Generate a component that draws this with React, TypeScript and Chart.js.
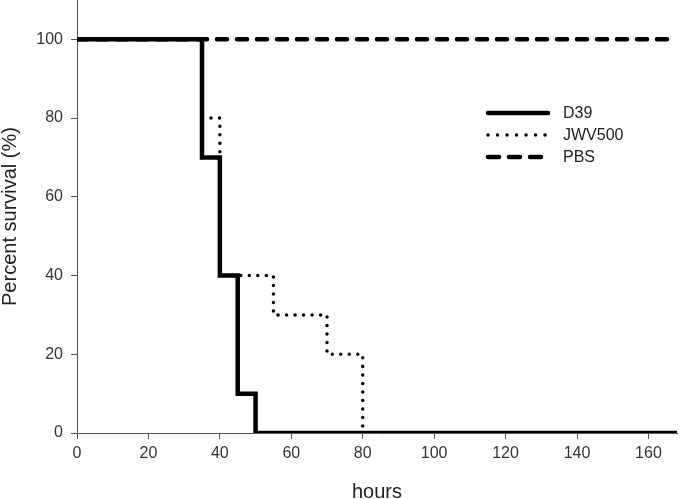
import React, { useEffect, useRef } from "react";
import { Chart, registerables } from "chart.js";

Chart.register(...registerables);

const seriesNames = ["D39", "JWV500", "PBS"];
const d39Hours = [0, 35, 40, 45, 50, 168];
const d39Survival = [100, 70, 40, 10, 0, 0];
const jwvHours = [0, 35, 40, 55, 70, 80, 168];
const jwvSurvival = [100, 80, 40, 30, 20, 0, 0];
const pbsHours = [0, 168];
const pbsSurvival = [100, 100];
const xTicks = [0, 20, 40, 60, 80, 100, 120, 140, 160];
const yTicks = [0, 20, 40, 60, 80, 100];

const FONT = "'Liberation Sans', Arial, Helvetica, sans-serif";
const lineStyles = [
  { width: 4.5, dash: [] as number[], cap: "butt" as CanvasLineCap },
  { width: 3.5, dash: [0.01, 8.5], cap: "round" as CanvasLineCap },
  { width: 4.5, dash: [10, 10], cap: "round" as CanvasLineCap },
];

const toPts = (xs: number[], ys: number[]) => xs.map((x, i) => ({ x, y: ys[i] }));

const legendPlugin = {
  id: "customLegend",
  afterDatasetsDraw(chart: any) {
    const ctx = chart.ctx as CanvasRenderingContext2D;
    const x0 = 488;
    const x1 = 548;
    const tx = 563;
    const ys = [113, 135, 157];
    ctx.save();
    seriesNames.forEach((name, i) => {
      const s = lineStyles[i];
      ctx.beginPath();
      ctx.strokeStyle = "#000";
      ctx.lineWidth = s.width;
      ctx.lineCap = i === 0 ? "round" : s.cap;
      ctx.setLineDash(i === 1 ? [0.01, 9.5] : i === 2 ? [11, 10] : []);
      ctx.moveTo(x0, ys[i]);
      ctx.lineTo(x1, ys[i]);
      ctx.stroke();
      ctx.setLineDash([]);
      ctx.fillStyle = "#222";
      ctx.font = `16px ${FONT}`;
      ctx.textBaseline = "middle";
      ctx.textAlign = "left";
      ctx.fillText(name, tx, ys[i] + 1);
    });
    ctx.restore();
  },
};

export default function App() {
  const ref = useRef<HTMLCanvasElement>(null);
  useEffect(() => {
    document.body.style.margin = "0";
    if (!ref.current) return;
    const datasets = [
      { label: seriesNames[0], data: toPts(d39Hours, d39Survival) },
      { label: seriesNames[1], data: toPts(jwvHours, jwvSurvival) },
      { label: seriesNames[2], data: toPts(pbsHours, pbsSurvival) },
    ].map((d, i) => ({
      ...d,
      stepped: true as const,
      borderColor: "#000",
      backgroundColor: "#000",
      borderWidth: lineStyles[i].width,
      borderDash: lineStyles[i].dash,
      borderCapStyle: lineStyles[i].cap,
      borderJoinStyle: "miter" as CanvasLineJoin,
      pointRadius: 0,
      fill: false,
      tension: 0,
    }));
    const chart = new Chart(ref.current, {
      type: "line",
      data: { datasets },
      options: {
        responsive: false,
        animation: false,
        layout: { padding: { top: 0, right: 3, bottom: 0, left: 0 } },
        plugins: { legend: { display: false }, tooltip: { enabled: false } },
        scales: {
          x: {
            type: "linear",
            min: 0,
            max: 168,
            afterBuildTicks: (s: any) => {
              s.ticks = xTicks.map((v) => ({ value: v }));
            },
            afterFit: (s: any) => {
              s.height = 66;
              s.paddingLeft = 0;
              s.paddingRight = 0;
            },
            ticks: {
              color: "#333",
              font: { size: 16, family: FONT },
              padding: 5,
              maxRotation: 0,
              autoSkip: false,
            },
            grid: {
              display: true,
              drawOnChartArea: false,
              drawTicks: true,
              tickLength: 6,
              color: "#555",
              lineWidth: 1,
            },
            border: { display: true, color: "#555", width: 1 },
            title: {
              display: true,
              text: "hours",
              color: "#222",
              font: { size: 20, family: FONT, lineHeight: 1 },
              padding: { top: 0, bottom: -3 },
            },
          },
          y: {
            type: "linear",
            min: 0,
            max: 110,
            afterBuildTicks: (s: any) => {
              s.ticks = yTicks.map((v) => ({ value: v }));
            },
            afterFit: (s: any) => {
              s.width = 77;
              s.paddingTop = 0;
              s.paddingBottom = 0;
            },
            ticks: {
              color: "#333",
              font: { size: 16, family: FONT },
              padding: 8,
            },
            grid: {
              display: true,
              drawOnChartArea: false,
              drawTicks: true,
              tickLength: 6,
              color: "#555",
              lineWidth: 1,
            },
            border: { display: true, color: "#555", width: 1 },
            title: {
              display: true,
              text: "Percent survival (%)",
              color: "#222",
              font: { size: 20, family: FONT, lineHeight: 1 },
              padding: { top: 0, bottom: 0 },
            },
          },
        },
      },
      plugins: [legendPlugin],
    });
    return () => chart.destroy();
  }, []);
  return (
    <div style={{ position: "absolute", left: 0, top: 0, width: 680, height: 499 }}>
      <canvas ref={ref} width={680} height={499} style={{ display: "block" }} />
    </div>
  );
}
